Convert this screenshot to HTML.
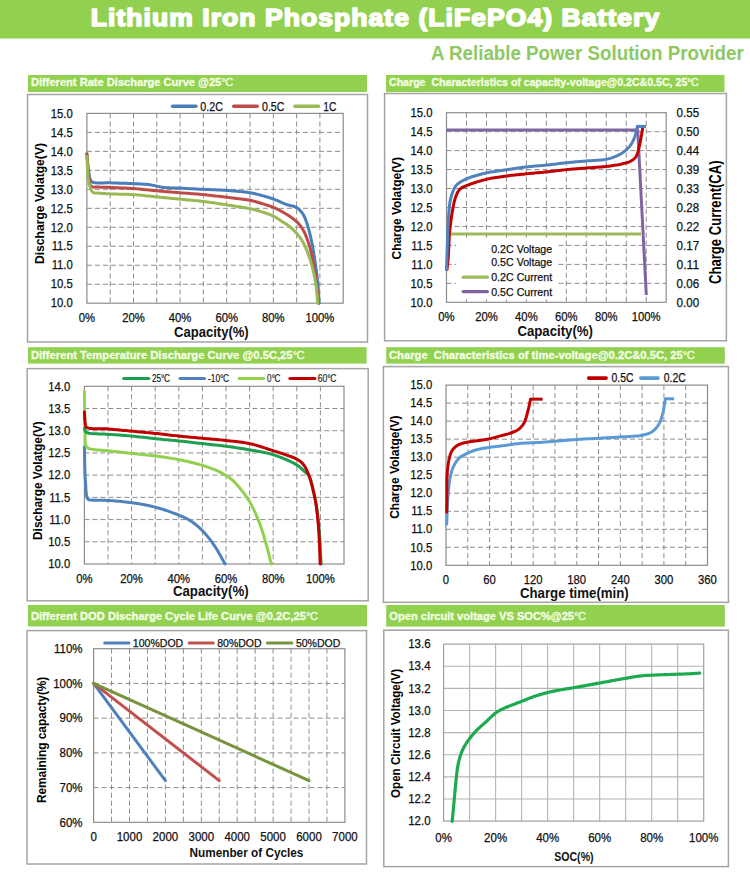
<!DOCTYPE html>
<html><head><meta charset="utf-8"><title>LiFePO4 Battery</title>
<style>
html,body{margin:0;padding:0;background:#fff;width:750px;height:879px;overflow:hidden}
svg{display:block;font-family:"Liberation Sans", sans-serif}
</style></head><body>
<svg width="750" height="879" viewBox="0 0 750 879">
<rect x="0" y="0" width="750" height="879" fill="#ffffff"/>
<rect x="0" y="0" width="750" height="38.5" fill="#92D050"/>
<text transform="translate(90.8,25.5) scale(1.1,1)" x="0" y="0" font-size="24.1" font-weight="bold" fill="#fff" stroke="#fff" stroke-width="1.6" stroke-linejoin="round" textLength="516.7" lengthAdjust="spacing">Lithium Iron Phosphate (LiFePO4) Battery</text>
<text x="431.00" y="59.70" font-size="19.33" font-weight="bold" fill="#8DC863" textLength="312.70" lengthAdjust="spacingAndGlyphs" >A Reliable Power Solution Provider</text>
<rect x="28" y="75" width="339" height="17" fill="#92D050"/>
<text x="30.9" y="85.9" font-size="11.19" font-weight="bold" fill="#F4FFE6" stroke="#F4FFE6" stroke-width="0.3" textLength="202.40" lengthAdjust="spacingAndGlyphs" style="white-space:pre">Different Rate Discharge Curve @25<tspan font-weight="normal">°</tspan><tspan font-weight="normal" dx="-0.5">C</tspan></text>
<rect x="27.5" y="94.5" width="340.0" height="247.5" fill="none" stroke="#A4A4A4" stroke-width="1.5"/>
<path d="M110.20,113.40V303.20M133.50,113.40V303.20M156.80,113.40V303.20M180.10,113.40V303.20M203.40,113.40V303.20M226.70,113.40V303.20M250.00,113.40V303.20M273.30,113.40V303.20M296.60,113.40V303.20M319.90,113.40V303.20" stroke="#8C8C8C" stroke-width="1.0" fill="none" stroke-dasharray="5,3"/><path d="M86.90,284.22H343.20M86.90,265.24H343.20M86.90,246.26H343.20M86.90,227.28H343.20M86.90,208.30H343.20M86.90,189.32H343.20M86.90,170.34H343.20M86.90,151.36H343.20M86.90,132.38H343.20" stroke="#8C8C8C" stroke-width="1.0" fill="none" stroke-dasharray="5,3"/>
<rect x="86.90" y="113.40" width="256.30" height="189.80" fill="none" stroke="#8C8C8C" stroke-width="1.2"/>
<text x="50.81" y="307.43" font-size="12.3" fill="#111" stroke="#111" stroke-width="0.25" textLength="21.99" lengthAdjust="spacingAndGlyphs">10.0</text>
<text x="50.81" y="288.45" font-size="12.3" fill="#111" stroke="#111" stroke-width="0.25" textLength="21.99" lengthAdjust="spacingAndGlyphs">10.5</text>
<text x="51.65" y="269.47" font-size="12.3" fill="#111" stroke="#111" stroke-width="0.25" textLength="21.15" lengthAdjust="spacingAndGlyphs">11.0</text>
<text x="51.65" y="250.49" font-size="12.3" fill="#111" stroke="#111" stroke-width="0.25" textLength="21.15" lengthAdjust="spacingAndGlyphs">11.5</text>
<text x="50.81" y="231.51" font-size="12.3" fill="#111" stroke="#111" stroke-width="0.25" textLength="21.99" lengthAdjust="spacingAndGlyphs">12.0</text>
<text x="50.81" y="212.53" font-size="12.3" fill="#111" stroke="#111" stroke-width="0.25" textLength="21.99" lengthAdjust="spacingAndGlyphs">12.5</text>
<text x="50.81" y="193.55" font-size="12.3" fill="#111" stroke="#111" stroke-width="0.25" textLength="21.99" lengthAdjust="spacingAndGlyphs">13.0</text>
<text x="50.81" y="174.57" font-size="12.3" fill="#111" stroke="#111" stroke-width="0.25" textLength="21.99" lengthAdjust="spacingAndGlyphs">13.5</text>
<text x="50.81" y="155.59" font-size="12.3" fill="#111" stroke="#111" stroke-width="0.25" textLength="21.99" lengthAdjust="spacingAndGlyphs">14.0</text>
<text x="50.81" y="136.61" font-size="12.3" fill="#111" stroke="#111" stroke-width="0.25" textLength="21.99" lengthAdjust="spacingAndGlyphs">14.5</text>
<text x="50.81" y="117.63" font-size="12.3" fill="#111" stroke="#111" stroke-width="0.25" textLength="21.99" lengthAdjust="spacingAndGlyphs">15.0</text>
<text x="78.73" y="321.73" font-size="12.3" fill="#111" stroke="#111" stroke-width="0.25" textLength="16.33" lengthAdjust="spacingAndGlyphs">0%</text>
<text x="122.19" y="321.73" font-size="12.3" fill="#111" stroke="#111" stroke-width="0.25" textLength="22.62" lengthAdjust="spacingAndGlyphs">20%</text>
<text x="168.79" y="321.73" font-size="12.3" fill="#111" stroke="#111" stroke-width="0.25" textLength="22.62" lengthAdjust="spacingAndGlyphs">40%</text>
<text x="215.39" y="321.73" font-size="12.3" fill="#111" stroke="#111" stroke-width="0.25" textLength="22.62" lengthAdjust="spacingAndGlyphs">60%</text>
<text x="261.99" y="321.73" font-size="12.3" fill="#111" stroke="#111" stroke-width="0.25" textLength="22.62" lengthAdjust="spacingAndGlyphs">80%</text>
<text x="305.45" y="321.73" font-size="12.3" fill="#111" stroke="#111" stroke-width="0.25" textLength="28.90" lengthAdjust="spacingAndGlyphs">100%</text>
<text x="174.00" y="336.70" font-size="14.54" font-weight="bold" fill="#111" textLength="74.70" lengthAdjust="spacingAndGlyphs" >Capacity(%)</text>
<text transform="translate(44.20,203.50) rotate(-90)" x="0" y="0" font-size="12.97" font-weight="bold" text-anchor="middle" textLength="121.00" lengthAdjust="spacingAndGlyphs" fill="#000">Discharge Volatge(V)</text>
<path d="M172.55,106.3H195.95" stroke="#4A7EBB" stroke-width="3.5" stroke-linecap="round"/>
<text x="200.30" y="110.53" font-size="12.3" fill="#111" stroke="#111" stroke-width="0.25" textLength="22.60" lengthAdjust="spacingAndGlyphs">0.2C</text>
<path d="M233.75,106.3H257.15" stroke="#BE4B48" stroke-width="3.5" stroke-linecap="round"/>
<text x="262.00" y="110.53" font-size="12.3" fill="#111" stroke="#111" stroke-width="0.25" textLength="22.40" lengthAdjust="spacingAndGlyphs">0.5C</text>
<path d="M294.95,106.3H318.55" stroke="#98B954" stroke-width="3.5" stroke-linecap="round"/>
<text x="323.20" y="110.53" font-size="12.3" fill="#111" stroke="#111" stroke-width="0.25" textLength="13.20" lengthAdjust="spacingAndGlyphs">1C</text>
<path d="M86.90,154.40 L87.05,155.90 L87.19,157.45 L87.33,159.01 L87.46,160.58 L87.59,162.16 L87.73,163.72 L87.87,165.26 L88.02,166.77 L88.18,168.23 L88.36,169.64 L88.55,170.98 L88.76,172.24 L88.92,173.10 L89.07,173.97 L89.22,174.83 L89.37,175.68 L89.52,176.50 L89.69,177.29 L89.87,178.05 L90.06,178.75 L90.28,179.41 L90.52,180.00 L90.79,180.52 L91.09,180.97 L91.28,181.19 L91.47,181.39 L91.66,181.56 L91.85,181.71 L92.05,181.84 L92.26,181.95 L92.48,182.05 L92.72,182.14 L92.98,182.23 L93.26,182.31 L93.56,182.40 L93.89,182.49 L94.76,182.67 L95.77,182.79 L96.93,182.88 L98.19,182.92 L99.56,182.93 L101.00,182.93 L102.50,182.91 L104.04,182.88 L105.59,182.85 L107.15,182.84 L108.70,182.84 L110.20,182.87 L112.01,182.92 L113.89,182.97 L115.83,183.02 L117.81,183.07 L119.83,183.13 L121.85,183.18 L123.88,183.25 L125.89,183.31 L127.87,183.38 L129.81,183.46 L131.69,183.54 L133.50,183.63 L134.97,183.70 L136.40,183.77 L137.81,183.84 L139.20,183.91 L140.57,183.98 L141.92,184.06 L143.26,184.14 L144.58,184.24 L145.90,184.34 L147.20,184.47 L148.51,184.61 L149.81,184.76 L151.01,184.94 L152.20,185.14 L153.36,185.36 L154.51,185.61 L155.66,185.86 L156.80,186.11 L157.94,186.37 L159.09,186.62 L160.24,186.85 L161.40,187.07 L162.59,187.26 L163.79,187.42 L165.09,187.56 L166.39,187.67 L167.70,187.76 L169.02,187.83 L170.34,187.88 L171.68,187.93 L173.03,187.96 L174.40,188.00 L175.79,188.03 L177.20,188.07 L178.63,188.12 L180.10,188.18 L181.90,188.27 L183.74,188.36 L185.63,188.45 L187.56,188.54 L189.51,188.64 L191.49,188.73 L193.48,188.83 L195.48,188.93 L197.48,189.03 L199.47,189.13 L201.45,189.22 L203.40,189.32 L205.34,189.41 L207.28,189.50 L209.23,189.58 L211.17,189.66 L213.11,189.74 L215.05,189.82 L216.99,189.90 L218.94,190.00 L220.88,190.09 L222.82,190.20 L224.76,190.32 L226.70,190.46 L228.67,190.60 L230.70,190.76 L232.76,190.92 L234.83,191.08 L236.91,191.26 L238.97,191.44 L240.99,191.63 L242.96,191.83 L244.87,192.04 L246.69,192.26 L248.40,192.49 L250.00,192.74 L250.98,192.90 L251.90,193.07 L252.77,193.24 L253.60,193.41 L254.41,193.58 L255.19,193.77 L255.96,193.95 L256.73,194.15 L257.51,194.35 L258.31,194.56 L259.15,194.78 L260.02,195.01 L261.09,195.30 L262.20,195.60 L263.33,195.92 L264.48,196.24 L265.64,196.58 L266.81,196.92 L267.98,197.28 L269.16,197.65 L270.33,198.02 L271.49,198.40 L272.64,198.79 L273.77,199.19 L274.86,199.60 L275.96,200.03 L277.05,200.48 L278.14,200.94 L279.22,201.42 L280.30,201.89 L281.37,202.37 L282.44,202.83 L283.49,203.28 L284.53,203.72 L285.56,204.13 L286.58,204.50 L287.46,204.80 L288.35,205.05 L289.24,205.27 L290.12,205.47 L291.00,205.67 L291.87,205.86 L292.72,206.06 L293.55,206.28 L294.36,206.53 L295.14,206.82 L295.89,207.15 L296.60,207.54 L297.23,207.95 L297.84,208.38 L298.43,208.84 L298.99,209.33 L299.54,209.84 L300.07,210.38 L300.57,210.93 L301.07,211.51 L301.54,212.10 L302.00,212.72 L302.45,213.35 L302.89,213.99 L303.36,214.75 L303.80,215.53 L304.22,216.33 L304.61,217.17 L304.98,218.02 L305.33,218.90 L305.67,219.81 L306.01,220.73 L306.33,221.67 L306.66,222.64 L306.99,223.62 L307.32,224.62 L307.73,225.91 L308.14,227.24 L308.54,228.61 L308.92,230.01 L309.30,231.45 L309.67,232.92 L310.04,234.41 L310.39,235.92 L310.74,237.45 L311.08,238.98 L311.42,240.53 L311.75,242.08 L312.11,243.85 L312.46,245.67 L312.80,247.52 L313.13,249.40 L313.45,251.30 L313.77,253.21 L314.07,255.13 L314.37,257.04 L314.66,258.94 L314.94,260.82 L315.21,262.67 L315.47,264.48 L315.71,266.11 L315.93,267.73 L316.15,269.32 L316.36,270.90 L316.57,272.47 L316.76,274.04 L316.95,275.60 L317.14,277.16 L317.31,278.72 L317.48,280.29 L317.65,281.87 L317.80,283.46 L317.95,285.09 L318.09,286.73 L318.22,288.37 L318.34,290.01 L318.46,291.65 L318.56,293.30 L318.67,294.95 L318.77,296.60 L318.87,298.26 L318.98,299.91 L319.09,301.55 L319.20,303.20" stroke="#4A7EBB" stroke-width="3.0" fill="none" stroke-linejoin="round" stroke-linecap="round"/>
<path d="M86.90,153.64 L87.05,155.53 L87.18,157.47 L87.31,159.44 L87.44,161.43 L87.56,163.42 L87.69,165.39 L87.83,167.33 L87.98,169.22 L88.14,171.06 L88.32,172.81 L88.53,174.48 L88.76,176.03 L88.92,177.07 L89.05,178.10 L89.17,179.13 L89.29,180.14 L89.42,181.12 L89.56,182.06 L89.73,182.95 L89.94,183.78 L90.19,184.54 L90.50,185.21 L90.87,185.80 L91.33,186.28 L91.76,186.59 L92.24,186.82 L92.77,186.98 L93.33,187.07 L93.92,187.12 L94.54,187.13 L95.18,187.11 L95.84,187.08 L96.51,187.05 L97.19,187.02 L97.87,187.02 L98.55,187.04 L99.41,187.10 L100.28,187.14 L101.17,187.17 L102.08,187.20 L103.00,187.23 L103.95,187.25 L104.92,187.27 L105.92,187.29 L106.94,187.32 L107.99,187.35 L109.08,187.38 L110.20,187.42 L111.86,187.49 L113.62,187.56 L115.46,187.63 L117.38,187.71 L119.34,187.79 L121.35,187.88 L123.39,187.97 L125.44,188.07 L127.49,188.18 L129.53,188.30 L131.53,188.42 L133.50,188.56 L135.44,188.71 L137.39,188.88 L139.33,189.06 L141.27,189.25 L143.21,189.45 L145.15,189.65 L147.09,189.86 L149.03,190.07 L150.97,190.27 L152.92,190.47 L154.86,190.66 L156.80,190.84 L158.74,191.01 L160.68,191.18 L162.62,191.34 L164.57,191.50 L166.51,191.66 L168.45,191.81 L170.39,191.96 L172.33,192.12 L174.27,192.27 L176.22,192.42 L178.16,192.58 L180.10,192.74 L182.04,192.89 L183.98,193.04 L185.93,193.19 L187.87,193.34 L189.81,193.49 L191.75,193.64 L193.69,193.79 L195.64,193.95 L197.58,194.11 L199.52,194.27 L201.46,194.45 L203.40,194.63 L205.34,194.83 L207.29,195.03 L209.23,195.24 L211.17,195.45 L213.11,195.67 L215.05,195.89 L217.00,196.12 L218.94,196.35 L220.88,196.58 L222.82,196.82 L224.76,197.05 L226.70,197.29 L228.67,197.53 L230.70,197.76 L232.76,198.00 L234.83,198.23 L236.91,198.47 L238.97,198.71 L240.99,198.96 L242.97,199.22 L244.87,199.48 L246.69,199.75 L248.40,200.03 L250.00,200.33 L250.98,200.53 L251.90,200.73 L252.78,200.93 L253.61,201.14 L254.41,201.34 L255.19,201.56 L255.96,201.77 L256.73,202.00 L257.51,202.23 L258.31,202.47 L259.15,202.72 L260.02,202.99 L261.10,203.31 L262.23,203.65 L263.40,204.00 L264.58,204.36 L265.79,204.74 L266.99,205.12 L268.19,205.52 L269.38,205.91 L270.54,206.32 L271.66,206.72 L272.74,207.13 L273.77,207.54 L274.55,207.87 L275.31,208.20 L276.05,208.54 L276.76,208.88 L277.46,209.22 L278.15,209.57 L278.83,209.91 L279.50,210.27 L280.16,210.62 L280.82,210.98 L281.49,211.35 L282.15,211.72 L282.80,212.08 L283.44,212.44 L284.07,212.80 L284.70,213.17 L285.33,213.54 L285.95,213.92 L286.57,214.29 L287.18,214.68 L287.79,215.07 L288.40,215.46 L289.01,215.86 L289.61,216.27 L290.21,216.68 L290.82,217.09 L291.42,217.50 L292.02,217.91 L292.61,218.33 L293.20,218.76 L293.79,219.19 L294.37,219.64 L294.94,220.10 L295.50,220.57 L296.06,221.07 L296.60,221.59 L297.17,222.16 L297.74,222.74 L298.29,223.34 L298.84,223.95 L299.38,224.58 L299.91,225.23 L300.43,225.89 L300.94,226.58 L301.44,227.29 L301.94,228.02 L302.42,228.78 L302.89,229.56 L303.45,230.55 L304.00,231.59 L304.53,232.67 L305.05,233.79 L305.55,234.94 L306.03,236.12 L306.51,237.32 L306.97,238.55 L307.42,239.79 L307.86,241.05 L308.29,242.32 L308.72,243.60 L309.19,245.09 L309.64,246.63 L310.07,248.20 L310.50,249.80 L310.90,251.42 L311.29,253.06 L311.67,254.72 L312.04,256.38 L312.39,258.04 L312.73,259.70 L313.06,261.34 L313.38,262.96 L313.67,264.54 L313.95,266.11 L314.21,267.68 L314.46,269.25 L314.69,270.82 L314.92,272.38 L315.14,273.96 L315.35,275.53 L315.55,277.12 L315.76,278.71 L315.96,280.32 L316.17,281.94 L316.39,283.67 L316.60,285.41 L316.80,287.17 L317.00,288.94 L317.19,290.71 L317.38,292.49 L317.56,294.28 L317.75,296.07 L317.93,297.86 L318.12,299.64 L318.31,301.42 L318.50,303.20" stroke="#BE4B48" stroke-width="3.0" fill="none" stroke-linejoin="round" stroke-linecap="round"/>
<path d="M86.90,156.29 L87.04,158.45 L87.15,160.67 L87.24,162.92 L87.33,165.20 L87.41,167.47 L87.50,169.73 L87.61,171.94 L87.75,174.10 L87.93,176.17 L88.15,178.15 L88.42,180.01 L88.76,181.73 L89.02,182.83 L89.28,183.93 L89.54,185.01 L89.82,186.07 L90.12,187.09 L90.44,188.06 L90.78,188.98 L91.15,189.83 L91.54,190.61 L91.98,191.29 L92.45,191.88 L92.96,192.36 L93.34,192.61 L93.74,192.81 L94.15,192.94 L94.58,193.03 L95.03,193.08 L95.49,193.09 L95.96,193.09 L96.45,193.08 L96.96,193.07 L97.47,193.06 L98.01,193.08 L98.55,193.12 L99.36,193.19 L100.20,193.27 L101.07,193.34 L101.97,193.40 L102.90,193.47 L103.86,193.53 L104.85,193.59 L105.86,193.65 L106.91,193.71 L107.98,193.76 L109.08,193.82 L110.20,193.88 L111.86,193.95 L113.62,194.01 L115.46,194.06 L117.38,194.10 L119.34,194.14 L121.35,194.18 L123.39,194.23 L125.44,194.28 L127.49,194.35 L129.53,194.42 L131.53,194.52 L133.50,194.63 L135.44,194.77 L137.39,194.93 L139.33,195.10 L141.27,195.28 L143.21,195.48 L145.15,195.68 L147.09,195.89 L149.04,196.10 L150.98,196.31 L152.92,196.51 L154.86,196.72 L156.80,196.91 L158.74,197.10 L160.68,197.29 L162.62,197.48 L164.57,197.67 L166.51,197.86 L168.45,198.05 L170.39,198.24 L172.33,198.43 L174.28,198.62 L176.22,198.81 L178.16,199.00 L180.10,199.19 L182.04,199.38 L183.98,199.56 L185.93,199.73 L187.87,199.91 L189.81,200.08 L191.75,200.26 L193.70,200.44 L195.64,200.62 L197.58,200.82 L199.52,201.02 L201.46,201.24 L203.40,201.47 L205.34,201.71 L207.29,201.97 L209.23,202.23 L211.17,202.51 L213.11,202.79 L215.06,203.08 L217.00,203.38 L218.94,203.68 L220.88,203.98 L222.82,204.28 L224.76,204.58 L226.70,204.88 L228.67,205.19 L230.70,205.49 L232.76,205.80 L234.83,206.11 L236.91,206.43 L238.97,206.74 L240.99,207.06 L242.96,207.38 L244.87,207.70 L246.69,208.03 L248.40,208.35 L250.00,208.68 L250.98,208.89 L251.90,209.10 L252.78,209.30 L253.61,209.51 L254.41,209.71 L255.19,209.92 L255.96,210.13 L256.73,210.35 L257.52,210.57 L258.32,210.81 L259.15,211.07 L260.02,211.34 L261.11,211.68 L262.24,212.03 L263.41,212.40 L264.60,212.78 L265.80,213.17 L267.01,213.58 L268.21,214.00 L269.40,214.43 L270.56,214.88 L271.68,215.33 L272.75,215.80 L273.77,216.27 L274.56,216.68 L275.32,217.09 L276.06,217.52 L276.78,217.96 L277.48,218.41 L278.16,218.87 L278.83,219.32 L279.50,219.78 L280.16,220.24 L280.82,220.69 L281.48,221.14 L282.15,221.59 L282.79,222.00 L283.43,222.40 L284.07,222.79 L284.70,223.18 L285.33,223.57 L285.96,223.96 L286.58,224.36 L287.20,224.76 L287.81,225.18 L288.42,225.61 L289.02,226.06 L289.61,226.52 L290.22,227.03 L290.83,227.54 L291.44,228.07 L292.04,228.62 L292.63,229.17 L293.22,229.74 L293.80,230.32 L294.37,230.91 L294.94,231.50 L295.50,232.11 L296.05,232.73 L296.60,233.35 L297.17,234.02 L297.72,234.69 L298.28,235.37 L298.82,236.05 L299.36,236.75 L299.89,237.46 L300.41,238.19 L300.92,238.93 L301.43,239.69 L301.92,240.47 L302.41,241.26 L302.89,242.08 L303.44,243.07 L303.97,244.08 L304.49,245.13 L305.00,246.20 L305.50,247.29 L305.99,248.41 L306.47,249.54 L306.94,250.69 L307.40,251.85 L307.85,253.02 L308.29,254.19 L308.72,255.37 L309.17,256.66 L309.61,257.98 L310.04,259.32 L310.46,260.68 L310.87,262.06 L311.26,263.44 L311.64,264.83 L312.01,266.22 L312.37,267.61 L312.72,268.99 L313.05,270.35 L313.38,271.69 L313.67,272.94 L313.95,274.18 L314.21,275.41 L314.47,276.63 L314.71,277.85 L314.95,279.07 L315.17,280.29 L315.39,281.51 L315.59,282.74 L315.79,283.98 L315.99,285.23 L316.17,286.50 L316.36,287.85 L316.52,289.22 L316.68,290.60 L316.82,291.98 L316.95,293.38 L317.07,294.78 L317.19,296.18 L317.31,297.59 L317.43,299.00 L317.55,300.40 L317.67,301.80 L317.80,303.20" stroke="#98B954" stroke-width="3.0" fill="none" stroke-linejoin="round" stroke-linecap="round"/>
<rect x="386" y="75" width="338.5" height="17" fill="#92D050"/>
<text x="389" y="85.9" font-size="10.90" font-weight="bold" fill="#F4FFE6" stroke="#F4FFE6" stroke-width="0.3" textLength="309.70" lengthAdjust="spacingAndGlyphs" style="white-space:pre">Charge  Characteristics of capacity-voltage@0.2C&amp;0.5C, 25<tspan font-weight="normal">°</tspan><tspan font-weight="normal" dx="-0.5">C</tspan></text>
<rect x="384.6" y="93.5" width="341.79999999999995" height="247.3" fill="none" stroke="#A4A4A4" stroke-width="1.5"/>
<path d="M466.47,112.70V302.30M486.45,112.70V302.30M506.42,112.70V302.30M526.39,112.70V302.30M546.36,112.70V302.30M566.34,112.70V302.30M586.31,112.70V302.30M606.28,112.70V302.30M626.25,112.70V302.30M646.23,112.70V302.30" stroke="#8C8C8C" stroke-width="1.0" fill="none" stroke-dasharray="5,3"/><path d="M446.50,283.34H666.20M446.50,264.38H666.20M446.50,245.42H666.20M446.50,226.46H666.20M446.50,207.50H666.20M446.50,188.54H666.20M446.50,169.58H666.20M446.50,150.62H666.20M446.50,131.66H666.20" stroke="#8C8C8C" stroke-width="1.0" fill="none" stroke-dasharray="5,3"/>
<rect x="446.50" y="112.70" width="219.70" height="189.60" fill="none" stroke="#8C8C8C" stroke-width="1.2"/>
<text x="410.51" y="306.53" font-size="12.3" fill="#111" stroke="#111" stroke-width="0.25" textLength="21.99" lengthAdjust="spacingAndGlyphs">10.0</text>
<text x="410.51" y="287.57" font-size="12.3" fill="#111" stroke="#111" stroke-width="0.25" textLength="21.99" lengthAdjust="spacingAndGlyphs">10.5</text>
<text x="411.35" y="268.61" font-size="12.3" fill="#111" stroke="#111" stroke-width="0.25" textLength="21.15" lengthAdjust="spacingAndGlyphs">11.0</text>
<text x="411.35" y="249.65" font-size="12.3" fill="#111" stroke="#111" stroke-width="0.25" textLength="21.15" lengthAdjust="spacingAndGlyphs">11.5</text>
<text x="410.51" y="230.69" font-size="12.3" fill="#111" stroke="#111" stroke-width="0.25" textLength="21.99" lengthAdjust="spacingAndGlyphs">12.0</text>
<text x="410.51" y="211.73" font-size="12.3" fill="#111" stroke="#111" stroke-width="0.25" textLength="21.99" lengthAdjust="spacingAndGlyphs">12.5</text>
<text x="410.51" y="192.77" font-size="12.3" fill="#111" stroke="#111" stroke-width="0.25" textLength="21.99" lengthAdjust="spacingAndGlyphs">13.0</text>
<text x="410.51" y="173.81" font-size="12.3" fill="#111" stroke="#111" stroke-width="0.25" textLength="21.99" lengthAdjust="spacingAndGlyphs">13.5</text>
<text x="410.51" y="154.85" font-size="12.3" fill="#111" stroke="#111" stroke-width="0.25" textLength="21.99" lengthAdjust="spacingAndGlyphs">14.0</text>
<text x="410.51" y="135.89" font-size="12.3" fill="#111" stroke="#111" stroke-width="0.25" textLength="21.99" lengthAdjust="spacingAndGlyphs">14.5</text>
<text x="410.51" y="116.93" font-size="12.3" fill="#111" stroke="#111" stroke-width="0.25" textLength="21.99" lengthAdjust="spacingAndGlyphs">15.0</text>
<text x="676.60" y="306.53" font-size="12.3" fill="#111" stroke="#111" stroke-width="0.25" textLength="22.50" lengthAdjust="spacingAndGlyphs">0.00</text>
<text x="676.60" y="287.57" font-size="12.3" fill="#111" stroke="#111" stroke-width="0.25" textLength="22.50" lengthAdjust="spacingAndGlyphs">0.06</text>
<text x="676.60" y="268.61" font-size="12.3" fill="#111" stroke="#111" stroke-width="0.25" textLength="22.50" lengthAdjust="spacingAndGlyphs">0.11</text>
<text x="676.60" y="249.65" font-size="12.3" fill="#111" stroke="#111" stroke-width="0.25" textLength="22.50" lengthAdjust="spacingAndGlyphs">0.17</text>
<text x="676.60" y="230.69" font-size="12.3" fill="#111" stroke="#111" stroke-width="0.25" textLength="22.50" lengthAdjust="spacingAndGlyphs">0.22</text>
<text x="676.60" y="211.73" font-size="12.3" fill="#111" stroke="#111" stroke-width="0.25" textLength="22.50" lengthAdjust="spacingAndGlyphs">0.28</text>
<text x="676.60" y="192.77" font-size="12.3" fill="#111" stroke="#111" stroke-width="0.25" textLength="22.50" lengthAdjust="spacingAndGlyphs">0.33</text>
<text x="676.60" y="173.81" font-size="12.3" fill="#111" stroke="#111" stroke-width="0.25" textLength="22.50" lengthAdjust="spacingAndGlyphs">0.39</text>
<text x="676.60" y="154.85" font-size="12.3" fill="#111" stroke="#111" stroke-width="0.25" textLength="22.50" lengthAdjust="spacingAndGlyphs">0.44</text>
<text x="676.60" y="135.89" font-size="12.3" fill="#111" stroke="#111" stroke-width="0.25" textLength="22.50" lengthAdjust="spacingAndGlyphs">0.50</text>
<text x="676.60" y="116.93" font-size="12.3" fill="#111" stroke="#111" stroke-width="0.25" textLength="22.50" lengthAdjust="spacingAndGlyphs">0.55</text>
<text x="438.33" y="320.93" font-size="12.3" fill="#111" stroke="#111" stroke-width="0.25" textLength="16.33" lengthAdjust="spacingAndGlyphs">0%</text>
<text x="475.14" y="320.93" font-size="12.3" fill="#111" stroke="#111" stroke-width="0.25" textLength="22.62" lengthAdjust="spacingAndGlyphs">20%</text>
<text x="515.08" y="320.93" font-size="12.3" fill="#111" stroke="#111" stroke-width="0.25" textLength="22.62" lengthAdjust="spacingAndGlyphs">40%</text>
<text x="555.03" y="320.93" font-size="12.3" fill="#111" stroke="#111" stroke-width="0.25" textLength="22.62" lengthAdjust="spacingAndGlyphs">60%</text>
<text x="594.97" y="320.93" font-size="12.3" fill="#111" stroke="#111" stroke-width="0.25" textLength="22.62" lengthAdjust="spacingAndGlyphs">80%</text>
<text x="631.78" y="320.93" font-size="12.3" fill="#111" stroke="#111" stroke-width="0.25" textLength="28.90" lengthAdjust="spacingAndGlyphs">100%</text>
<text x="517.40" y="336.00" font-size="14.83" font-weight="bold" fill="#111" textLength="75.60" lengthAdjust="spacingAndGlyphs" >Capacity(%)</text>
<text transform="translate(400.50,208.20) rotate(-90)" x="0" y="0" font-size="12.70" font-weight="bold" text-anchor="middle" textLength="102.50" lengthAdjust="spacingAndGlyphs" fill="#000">Charge Volatge(V)</text>
<text transform="translate(721.20,222.20) rotate(-90)" x="0" y="0" font-size="15.68" font-weight="bold" text-anchor="middle" textLength="123.70" lengthAdjust="spacingAndGlyphs" fill="#000">Charge Current(CA)</text>
<rect x="456" y="240" width="102" height="59.5" fill="#fff"/>
<text x="491.20" y="252.56" font-size="11.8" fill="#111" stroke="#111" stroke-width="0.25" textLength="61.00" lengthAdjust="spacingAndGlyphs">0.2C Voltage</text>
<text x="491.20" y="266.26" font-size="11.8" fill="#111" stroke="#111" stroke-width="0.25" textLength="61.00" lengthAdjust="spacingAndGlyphs">0.5C Voltage</text>
<text x="491.20" y="281.26" font-size="11.8" fill="#111" stroke="#111" stroke-width="0.25" textLength="61.00" lengthAdjust="spacingAndGlyphs">0.2C Current</text>
<text x="491.20" y="295.56" font-size="11.8" fill="#111" stroke="#111" stroke-width="0.25" textLength="61.00" lengthAdjust="spacingAndGlyphs">0.5C Current</text>
<path d="M463.20,277.2H487.40" stroke="#9BBB59" stroke-width="3.2" stroke-linecap="round"/>
<path d="M463.20,291.6H487.40" stroke="#8064A2" stroke-width="3.2" stroke-linecap="round"/>
<path d="M446.5,234.04H641" stroke="#9BBB59" stroke-width="3" fill="none"/>
<path d="M446.5,130H637.7L646.3,295" stroke="#8064A2" stroke-width="3" fill="none" stroke-linejoin="round"/>
<path d="M447.00,269.50 L447.10,268.57 L447.20,267.67 L447.31,266.78 L447.41,265.90 L447.51,265.01 L447.62,264.12 L447.72,263.22 L447.82,262.29 L447.92,261.33 L448.01,260.34 L448.11,259.29 L448.20,258.20 L448.32,256.48 L448.43,254.63 L448.52,252.68 L448.61,250.64 L448.69,248.54 L448.78,246.39 L448.87,244.22 L448.96,242.04 L449.07,239.86 L449.19,237.72 L449.33,235.63 L449.50,233.60 L449.68,231.72 L449.86,229.84 L450.06,227.95 L450.27,226.07 L450.49,224.20 L450.72,222.35 L450.96,220.51 L451.21,218.70 L451.47,216.92 L451.74,215.17 L452.01,213.46 L452.30,211.80 L452.54,210.43 L452.78,209.06 L453.03,207.71 L453.27,206.37 L453.53,205.05 L453.79,203.76 L454.06,202.50 L454.35,201.27 L454.66,200.08 L454.98,198.94 L455.33,197.84 L455.70,196.80 L455.99,196.05 L456.27,195.32 L456.57,194.61 L456.86,193.92 L457.17,193.25 L457.49,192.61 L457.83,191.99 L458.18,191.39 L458.55,190.83 L458.94,190.29 L459.36,189.78 L459.80,189.30 L460.22,188.91 L460.64,188.55 L461.07,188.23 L461.52,187.94 L461.98,187.67 L462.46,187.41 L462.96,187.17 L463.49,186.93 L464.04,186.69 L464.63,186.44 L465.24,186.18 L465.90,185.90 L467.16,185.37 L468.56,184.82 L470.08,184.25 L471.72,183.67 L473.43,183.09 L475.21,182.50 L477.03,181.93 L478.88,181.37 L480.73,180.83 L482.57,180.31 L484.36,179.84 L486.10,179.40 L487.78,179.01 L489.48,178.65 L491.17,178.31 L492.87,178.00 L494.57,177.71 L496.28,177.44 L497.99,177.18 L499.69,176.94 L501.40,176.70 L503.10,176.46 L504.80,176.23 L506.50,176.00 L508.17,175.78 L509.84,175.56 L511.51,175.36 L513.18,175.17 L514.84,174.99 L516.51,174.81 L518.17,174.64 L519.84,174.47 L521.50,174.30 L523.17,174.14 L524.83,173.97 L526.50,173.80 L528.17,173.63 L529.84,173.47 L531.51,173.31 L533.18,173.16 L534.85,173.00 L536.52,172.85 L538.19,172.70 L539.85,172.55 L541.52,172.39 L543.18,172.23 L544.84,172.07 L546.50,171.90 L548.13,171.73 L549.76,171.55 L551.39,171.36 L553.01,171.17 L554.63,170.98 L556.25,170.79 L557.87,170.60 L559.49,170.41 L561.11,170.22 L562.74,170.04 L564.37,169.87 L566.00,169.70 L567.66,169.54 L569.32,169.38 L570.98,169.23 L572.65,169.09 L574.31,168.94 L575.98,168.80 L577.65,168.67 L579.32,168.53 L580.99,168.40 L582.66,168.27 L584.33,168.13 L586.00,168.00 L587.67,167.87 L589.36,167.76 L591.05,167.65 L592.75,167.54 L594.45,167.44 L596.14,167.33 L597.83,167.22 L599.50,167.10 L601.16,166.97 L602.80,166.83 L604.41,166.68 L606.00,166.50 L607.42,166.33 L608.84,166.15 L610.25,165.96 L611.67,165.77 L613.06,165.56 L614.44,165.35 L615.80,165.13 L617.12,164.90 L618.41,164.66 L619.66,164.42 L620.86,164.16 L622.00,163.90 L622.82,163.71 L623.61,163.52 L624.39,163.33 L625.14,163.14 L625.88,162.94 L626.59,162.74 L627.29,162.53 L627.97,162.30 L628.63,162.06 L629.27,161.79 L629.89,161.51 L630.50,161.20 L631.02,160.92 L631.53,160.63 L632.02,160.33 L632.50,160.02 L632.97,159.70 L633.42,159.36 L633.86,159.01 L634.28,158.64 L634.69,158.24 L635.08,157.82 L635.45,157.38 L635.80,156.90 L636.20,156.27 L636.57,155.58 L636.90,154.85 L637.20,154.08 L637.48,153.27 L637.75,152.44 L637.99,151.59 L638.22,150.73 L638.44,149.86 L638.66,148.99 L638.88,148.14 L639.10,147.30 L639.32,146.44 L639.53,145.57 L639.73,144.68 L639.91,143.79 L640.09,142.89 L640.26,141.99 L640.42,141.10 L640.58,140.20 L640.73,139.31 L640.89,138.43 L641.04,137.56 L641.20,136.70 L641.34,135.92 L641.49,135.14 L641.62,134.38 L641.76,133.62 L641.89,132.86 L642.02,132.11 L642.15,131.36 L642.28,130.61 L642.41,129.86 L642.54,129.11 L642.67,128.36 L642.80,127.60" stroke="#C00000" stroke-width="3" fill="none" stroke-linejoin="round" stroke-linecap="round"/>
<path d="M446.50,269.80 L446.58,267.46 L446.67,265.11 L446.75,262.76 L446.83,260.40 L446.91,258.04 L447.00,255.68 L447.08,253.33 L447.16,250.99 L447.24,248.67 L447.33,246.36 L447.41,244.07 L447.50,241.80 L447.58,239.69 L447.65,237.56 L447.72,235.44 L447.79,233.33 L447.85,231.23 L447.92,229.14 L448.00,227.07 L448.08,225.04 L448.17,223.04 L448.26,221.08 L448.38,219.16 L448.50,217.30 L448.61,215.80 L448.71,214.32 L448.82,212.86 L448.93,211.41 L449.04,209.99 L449.17,208.60 L449.30,207.23 L449.44,205.90 L449.60,204.59 L449.78,203.32 L449.98,202.09 L450.20,200.90 L450.38,200.00 L450.58,199.13 L450.78,198.27 L450.99,197.44 L451.21,196.62 L451.44,195.83 L451.67,195.05 L451.92,194.29 L452.18,193.54 L452.44,192.82 L452.72,192.10 L453.00,191.40 L453.24,190.82 L453.47,190.26 L453.70,189.70 L453.93,189.16 L454.17,188.64 L454.41,188.12 L454.68,187.61 L454.96,187.11 L455.27,186.63 L455.61,186.14 L455.99,185.67 L456.40,185.20 L456.97,184.62 L457.60,184.06 L458.26,183.51 L458.97,182.97 L459.72,182.45 L460.51,181.94 L461.33,181.45 L462.19,180.96 L463.08,180.48 L463.99,180.01 L464.93,179.55 L465.90,179.10 L467.29,178.49 L468.78,177.90 L470.35,177.33 L472.00,176.77 L473.71,176.23 L475.45,175.71 L477.23,175.21 L479.03,174.73 L480.83,174.27 L482.61,173.83 L484.38,173.40 L486.10,173.00 L487.79,172.63 L489.48,172.29 L491.18,171.97 L492.88,171.68 L494.58,171.41 L496.29,171.15 L497.99,170.90 L499.70,170.66 L501.40,170.43 L503.11,170.19 L504.80,169.95 L506.50,169.70 L508.17,169.45 L509.84,169.20 L511.51,168.94 L513.18,168.70 L514.84,168.45 L516.51,168.21 L518.17,167.97 L519.84,167.74 L521.50,167.52 L523.17,167.30 L524.83,167.10 L526.50,166.90 L528.17,166.72 L529.83,166.55 L531.50,166.39 L533.17,166.25 L534.84,166.11 L536.51,165.97 L538.18,165.84 L539.85,165.70 L541.52,165.56 L543.18,165.42 L544.84,165.27 L546.50,165.10 L548.13,164.92 L549.76,164.74 L551.39,164.55 L553.01,164.35 L554.63,164.15 L556.25,163.95 L557.87,163.75 L559.49,163.55 L561.11,163.35 L562.74,163.16 L564.37,162.98 L566.00,162.80 L567.66,162.63 L569.32,162.47 L570.98,162.31 L572.65,162.16 L574.31,162.01 L575.98,161.86 L577.65,161.72 L579.32,161.57 L580.99,161.43 L582.66,161.29 L584.33,161.14 L586.00,161.00 L587.69,160.87 L589.41,160.75 L591.15,160.64 L592.91,160.55 L594.66,160.45 L596.41,160.35 L598.13,160.23 L599.82,160.10 L601.46,159.95 L603.04,159.77 L604.56,159.56 L606.00,159.30 L607.03,159.09 L608.02,158.86 L608.99,158.62 L609.92,158.36 L610.84,158.09 L611.73,157.82 L612.59,157.52 L613.44,157.22 L614.28,156.91 L615.10,156.58 L615.90,156.25 L616.70,155.90 L617.38,155.59 L618.05,155.28 L618.70,154.96 L619.34,154.63 L619.97,154.29 L620.59,153.95 L621.19,153.59 L621.79,153.22 L622.37,152.84 L622.95,152.44 L623.53,152.03 L624.10,151.60 L624.68,151.14 L625.26,150.67 L625.84,150.18 L626.40,149.68 L626.96,149.17 L627.51,148.64 L628.05,148.10 L628.57,147.55 L629.08,146.98 L629.57,146.40 L630.05,145.80 L630.50,145.20 L630.94,144.56 L631.37,143.91 L631.78,143.24 L632.17,142.56 L632.54,141.86 L632.90,141.15 L633.25,140.43 L633.58,139.70 L633.90,138.96 L634.21,138.21 L634.51,137.46 L634.80,136.70 L635.09,135.88 L635.36,135.05 L635.61,134.20 L635.84,133.34 L636.06,132.47 L636.27,131.59 L636.47,130.70 L636.67,129.82 L636.87,128.93 L637.07,128.05 L637.28,127.17 L637.50,126.30" stroke="#4F81BD" stroke-width="3" fill="none" stroke-linejoin="round" stroke-linecap="round"/>
<path d="M637.7,126.4H646" stroke="#4F81BD" stroke-width="3" fill="none"/>
<rect x="28" y="347.2" width="338.6" height="16.4" fill="#92D050"/>
<text x="30.9" y="358.9" font-size="11.48" font-weight="bold" fill="#F4FFE6" stroke="#F4FFE6" stroke-width="0.3" textLength="273.80" lengthAdjust="spacingAndGlyphs" style="white-space:pre">Different Temperature Discharge Curve @0.5C,25<tspan font-weight="normal">°</tspan><tspan font-weight="normal" dx="-0.5">C</tspan></text>
<rect x="27.2" y="368.6" width="341.0" height="232.19999999999993" fill="none" stroke="#A4A4A4" stroke-width="1.5"/>
<path d="M108.00,386.30V564.00M131.60,386.30V564.00M155.20,386.30V564.00M178.80,386.30V564.00M202.40,386.30V564.00M226.00,386.30V564.00M249.60,386.30V564.00M273.20,386.30V564.00M296.80,386.30V564.00M320.40,386.30V564.00" stroke="#8C8C8C" stroke-width="1.0" fill="none" stroke-dasharray="5,3"/><path d="M84.40,541.79H344.00M84.40,519.58H344.00M84.40,497.36H344.00M84.40,475.15H344.00M84.40,452.94H344.00M84.40,430.73H344.00M84.40,408.51H344.00" stroke="#8C8C8C" stroke-width="1.0" fill="none" stroke-dasharray="5,3"/>
<rect x="84.40" y="386.30" width="259.60" height="177.70" fill="none" stroke="#8C8C8C" stroke-width="1.2"/>
<text x="48.31" y="568.23" font-size="12.3" fill="#111" stroke="#111" stroke-width="0.25" textLength="21.99" lengthAdjust="spacingAndGlyphs">10.0</text>
<text x="48.31" y="546.02" font-size="12.3" fill="#111" stroke="#111" stroke-width="0.25" textLength="21.99" lengthAdjust="spacingAndGlyphs">10.5</text>
<text x="49.15" y="523.81" font-size="12.3" fill="#111" stroke="#111" stroke-width="0.25" textLength="21.15" lengthAdjust="spacingAndGlyphs">11.0</text>
<text x="49.15" y="501.59" font-size="12.3" fill="#111" stroke="#111" stroke-width="0.25" textLength="21.15" lengthAdjust="spacingAndGlyphs">11.5</text>
<text x="48.31" y="479.38" font-size="12.3" fill="#111" stroke="#111" stroke-width="0.25" textLength="21.99" lengthAdjust="spacingAndGlyphs">12.0</text>
<text x="48.31" y="457.17" font-size="12.3" fill="#111" stroke="#111" stroke-width="0.25" textLength="21.99" lengthAdjust="spacingAndGlyphs">12.5</text>
<text x="48.31" y="434.96" font-size="12.3" fill="#111" stroke="#111" stroke-width="0.25" textLength="21.99" lengthAdjust="spacingAndGlyphs">13.0</text>
<text x="48.31" y="412.74" font-size="12.3" fill="#111" stroke="#111" stroke-width="0.25" textLength="21.99" lengthAdjust="spacingAndGlyphs">13.5</text>
<text x="48.31" y="390.53" font-size="12.3" fill="#111" stroke="#111" stroke-width="0.25" textLength="21.99" lengthAdjust="spacingAndGlyphs">14.0</text>
<text x="76.23" y="583.13" font-size="12.3" fill="#111" stroke="#111" stroke-width="0.25" textLength="16.33" lengthAdjust="spacingAndGlyphs">0%</text>
<text x="120.29" y="583.13" font-size="12.3" fill="#111" stroke="#111" stroke-width="0.25" textLength="22.62" lengthAdjust="spacingAndGlyphs">20%</text>
<text x="167.49" y="583.13" font-size="12.3" fill="#111" stroke="#111" stroke-width="0.25" textLength="22.62" lengthAdjust="spacingAndGlyphs">40%</text>
<text x="214.69" y="583.13" font-size="12.3" fill="#111" stroke="#111" stroke-width="0.25" textLength="22.62" lengthAdjust="spacingAndGlyphs">60%</text>
<text x="261.89" y="583.13" font-size="12.3" fill="#111" stroke="#111" stroke-width="0.25" textLength="22.62" lengthAdjust="spacingAndGlyphs">80%</text>
<text x="305.95" y="583.13" font-size="12.3" fill="#111" stroke="#111" stroke-width="0.25" textLength="28.90" lengthAdjust="spacingAndGlyphs">100%</text>
<text x="172.90" y="595.60" font-size="14.83" font-weight="bold" fill="#111" textLength="75.80" lengthAdjust="spacingAndGlyphs" >Capacity(%)</text>
<text transform="translate(41.96,480.60) rotate(-90)" x="0" y="0" font-size="13.68" font-weight="bold" text-anchor="middle" textLength="118.75" lengthAdjust="spacingAndGlyphs" fill="#000">Discharge Volatge(V)</text>
<path d="M123.60,378.5H148.90" stroke="#1E9E50" stroke-width="3.0" stroke-linecap="round"/>
<text x="151.9" y="382.04" font-size="10.3" fill="#111" stroke="#111" stroke-width="0.15" textLength="18.10" lengthAdjust="spacingAndGlyphs">25<tspan font-weight="normal">°</tspan><tspan font-weight="normal" dx="-0.5">C</tspan></text>
<path d="M180.00,378.5H204.50" stroke="#4F81BD" stroke-width="3.0" stroke-linecap="round"/>
<text x="207.9" y="382.04" font-size="10.3" fill="#111" stroke="#111" stroke-width="0.15" textLength="21.30" lengthAdjust="spacingAndGlyphs">-10<tspan font-weight="normal">°</tspan><tspan font-weight="normal" dx="-0.5">C</tspan></text>
<path d="M239.20,378.5H263.70" stroke="#92D050" stroke-width="3.0" stroke-linecap="round"/>
<text x="267.1" y="382.04" font-size="10.3" fill="#111" stroke="#111" stroke-width="0.15" textLength="13.30" lengthAdjust="spacingAndGlyphs">0<tspan font-weight="normal">°</tspan><tspan font-weight="normal" dx="-0.5">C</tspan></text>
<path d="M289.90,378.5H314.90" stroke="#C00000" stroke-width="3.0" stroke-linecap="round"/>
<text x="317.7" y="382.04" font-size="10.3" fill="#111" stroke="#111" stroke-width="0.15" textLength="18.70" lengthAdjust="spacingAndGlyphs">60<tspan font-weight="normal">°</tspan><tspan font-weight="normal" dx="-0.5">C</tspan></text>
<path d="M84.40,446.72 L84.47,449.48 L84.53,452.30 L84.57,455.14 L84.61,457.99 L84.66,460.85 L84.70,463.69 L84.76,466.50 L84.83,469.27 L84.92,471.98 L85.03,474.61 L85.17,477.15 L85.34,479.59 L85.48,481.48 L85.59,483.43 L85.69,485.41 L85.80,487.40 L85.91,489.34 L86.05,491.22 L86.22,492.99 L86.43,494.63 L86.70,496.09 L87.03,497.36 L87.44,498.38 L87.94,499.14 L88.18,499.37 L88.41,499.55 L88.66,499.69 L88.91,499.79 L89.17,499.85 L89.45,499.89 L89.74,499.92 L90.05,499.93 L90.37,499.94 L90.72,499.96 L91.09,499.98 L91.48,500.03 L92.42,500.13 L93.49,500.20 L94.68,500.25 L95.97,500.27 L97.35,500.29 L98.79,500.29 L100.29,500.30 L101.83,500.30 L103.38,500.32 L104.94,500.35 L106.48,500.40 L108.00,500.47 L109.82,500.59 L111.69,500.71 L113.61,500.85 L115.56,501.00 L117.55,501.16 L119.55,501.33 L121.57,501.52 L123.59,501.72 L125.61,501.94 L127.63,502.18 L129.63,502.43 L131.60,502.69 L133.57,502.98 L135.55,503.27 L137.52,503.57 L139.49,503.89 L141.47,504.22 L143.44,504.57 L145.40,504.93 L147.37,505.32 L149.33,505.74 L151.29,506.17 L153.25,506.64 L155.20,507.14 L157.21,507.68 L159.26,508.27 L161.33,508.89 L163.41,509.54 L165.50,510.22 L167.56,510.92 L169.59,511.63 L171.58,512.34 L173.51,513.05 L175.36,513.76 L177.13,514.46 L178.80,515.13 L179.94,515.60 L181.04,516.06 L182.09,516.50 L183.10,516.94 L184.08,517.38 L185.03,517.82 L185.97,518.28 L186.90,518.75 L187.81,519.24 L188.73,519.76 L189.66,520.32 L190.60,520.91 L191.62,521.58 L192.64,522.29 L193.64,523.02 L194.65,523.77 L195.64,524.55 L196.63,525.36 L197.61,526.19 L198.58,527.04 L199.55,527.92 L200.51,528.82 L201.46,529.74 L202.40,530.68 L203.44,531.75 L204.46,532.86 L205.48,534.00 L206.49,535.17 L207.49,536.37 L208.48,537.59 L209.47,538.84 L210.44,540.11 L211.39,541.39 L212.34,542.70 L213.28,544.01 L214.20,545.34 L215.17,546.79 L216.12,548.27 L217.04,549.79 L217.96,551.33 L218.85,552.90 L219.74,554.48 L220.63,556.07 L221.51,557.67 L222.39,559.26 L223.27,560.85 L224.16,562.44 L225.06,564.00" stroke="#4F81BD" stroke-width="3" fill="none" stroke-linejoin="round" stroke-linecap="round"/>
<path d="M84.40,391.63 L84.46,394.95 L84.51,398.36 L84.55,401.83 L84.60,405.34 L84.64,408.85 L84.69,412.32 L84.74,415.73 L84.80,419.05 L84.86,422.24 L84.93,425.27 L85.01,428.11 L85.11,430.73 L85.15,432.27 L85.17,433.80 L85.16,435.31 L85.15,436.77 L85.14,438.18 L85.15,439.54 L85.17,440.82 L85.24,442.03 L85.35,443.14 L85.51,444.15 L85.74,445.05 L86.05,445.83 L86.23,446.18 L86.42,446.49 L86.61,446.77 L86.81,447.02 L87.02,447.24 L87.25,447.45 L87.50,447.64 L87.77,447.81 L88.06,447.98 L88.38,448.15 L88.73,448.32 L89.12,448.50 L90.10,448.85 L91.27,449.14 L92.61,449.39 L94.09,449.59 L95.69,449.76 L97.38,449.90 L99.14,450.03 L100.93,450.14 L102.74,450.26 L104.54,450.39 L106.30,450.54 L108.00,450.72 L109.87,450.93 L111.78,451.15 L113.71,451.37 L115.67,451.59 L117.65,451.81 L119.64,452.04 L121.63,452.26 L123.64,452.49 L125.64,452.71 L127.64,452.94 L129.62,453.16 L131.60,453.38 L133.57,453.60 L135.53,453.82 L137.50,454.03 L139.47,454.24 L141.44,454.45 L143.40,454.66 L145.37,454.87 L147.34,455.09 L149.30,455.32 L151.27,455.55 L153.24,455.79 L155.20,456.05 L157.17,456.31 L159.14,456.56 L161.11,456.82 L163.08,457.09 L165.05,457.36 L167.02,457.63 L168.98,457.92 L170.95,458.22 L172.92,458.54 L174.88,458.87 L176.84,459.23 L178.80,459.60 L180.79,460.00 L182.80,460.42 L184.82,460.85 L186.85,461.30 L188.88,461.77 L190.90,462.25 L192.90,462.74 L194.88,463.25 L196.83,463.77 L198.73,464.29 L200.59,464.83 L202.40,465.38 L203.90,465.85 L205.38,466.32 L206.84,466.80 L208.28,467.29 L209.69,467.79 L211.08,468.29 L212.44,468.81 L213.78,469.33 L215.10,469.88 L216.40,470.43 L217.67,471.01 L218.92,471.60 L220.00,472.13 L221.06,472.66 L222.11,473.20 L223.13,473.75 L224.14,474.31 L225.13,474.88 L226.10,475.47 L227.05,476.08 L227.99,476.70 L228.92,477.34 L229.83,478.01 L230.72,478.70 L231.59,479.42 L232.43,480.15 L233.26,480.90 L234.06,481.68 L234.85,482.47 L235.63,483.28 L236.40,484.11 L237.16,484.95 L237.91,485.81 L238.66,486.69 L239.41,487.57 L240.16,488.48 L240.98,489.48 L241.80,490.50 L242.62,491.53 L243.42,492.59 L244.22,493.66 L245.02,494.75 L245.80,495.86 L246.58,497.00 L247.35,498.16 L248.11,499.35 L248.86,500.56 L249.60,501.81 L250.45,503.30 L251.30,504.84 L252.14,506.43 L252.96,508.05 L253.78,509.71 L254.58,511.40 L255.37,513.11 L256.14,514.83 L256.90,516.57 L257.63,518.31 L258.35,520.06 L259.04,521.80 L259.73,523.59 L260.39,525.41 L261.03,527.25 L261.66,529.11 L262.26,530.98 L262.85,532.86 L263.42,534.74 L263.98,536.62 L264.53,538.49 L265.06,540.34 L265.59,542.19 L266.12,544.01 L266.60,545.71 L267.07,547.39 L267.52,549.07 L267.96,550.74 L268.38,552.40 L268.81,554.06 L269.22,555.72 L269.63,557.37 L270.05,559.02 L270.46,560.68 L270.88,562.34 L271.31,564.00" stroke="#92D050" stroke-width="3" fill="none" stroke-linejoin="round" stroke-linecap="round"/>
<path d="M84.40,428.50 L84.49,428.77 L84.58,429.04 L84.66,429.32 L84.74,429.60 L84.82,429.88 L84.91,430.16 L84.99,430.44 L85.09,430.70 L85.19,430.95 L85.30,431.19 L85.43,431.41 L85.58,431.61 L85.71,431.77 L85.84,431.91 L85.98,432.05 L86.12,432.17 L86.26,432.28 L86.42,432.39 L86.58,432.49 L86.77,432.58 L86.97,432.67 L87.19,432.76 L87.43,432.85 L87.70,432.95 L88.65,433.18 L89.85,433.38 L91.26,433.53 L92.85,433.65 L94.59,433.74 L96.44,433.82 L98.37,433.89 L100.34,433.95 L102.32,434.01 L104.29,434.08 L106.19,434.17 L108.00,434.28 L109.90,434.41 L111.83,434.54 L113.78,434.68 L115.74,434.81 L117.71,434.95 L119.69,435.09 L121.68,435.24 L123.67,435.39 L125.66,435.54 L127.65,435.70 L129.63,435.88 L131.60,436.06 L133.57,436.25 L135.54,436.45 L137.50,436.67 L139.47,436.90 L141.44,437.13 L143.40,437.36 L145.37,437.60 L147.33,437.83 L149.30,438.07 L151.27,438.29 L153.23,438.51 L155.20,438.72 L157.17,438.92 L159.13,439.11 L161.10,439.30 L163.07,439.48 L165.03,439.66 L167.00,439.83 L168.97,440.01 L170.93,440.19 L172.90,440.37 L174.87,440.55 L176.83,440.74 L178.80,440.94 L180.77,441.15 L182.73,441.36 L184.70,441.58 L186.67,441.80 L188.63,442.02 L190.60,442.25 L192.57,442.48 L194.53,442.70 L196.50,442.93 L198.47,443.16 L200.43,443.38 L202.40,443.61 L204.37,443.83 L206.33,444.04 L208.30,444.25 L210.27,444.46 L212.24,444.67 L214.20,444.89 L216.17,445.10 L218.14,445.32 L220.10,445.55 L222.07,445.78 L224.04,446.02 L226.00,446.27 L227.97,446.53 L229.94,446.80 L231.91,447.07 L233.88,447.34 L235.84,447.63 L237.81,447.91 L239.78,448.21 L241.74,448.51 L243.71,448.83 L245.67,449.15 L247.64,449.48 L249.60,449.83 L251.57,450.17 L253.55,450.51 L255.53,450.84 L257.50,451.18 L259.48,451.52 L261.45,451.88 L263.43,452.26 L265.39,452.67 L267.35,453.12 L269.31,453.60 L271.26,454.13 L273.20,454.71 L275.24,455.38 L277.35,456.11 L279.49,456.90 L281.66,457.73 L283.82,458.60 L285.95,459.50 L288.03,460.41 L290.03,461.34 L291.93,462.26 L293.71,463.17 L295.34,464.07 L296.80,464.93 L297.60,465.45 L298.35,465.98 L299.05,466.50 L299.70,467.03 L300.31,467.55 L300.90,468.08 L301.46,468.60 L302.00,469.12 L302.53,469.63 L303.05,470.15 L303.58,470.65 L304.12,471.15 L304.58,471.56 L305.03,471.95 L305.48,472.32 L305.92,472.68 L306.36,473.03 L306.78,473.40 L307.20,473.77 L307.60,474.16 L307.99,474.58 L308.37,475.02 L308.73,475.51 L309.07,476.04 L309.51,476.83 L309.91,477.70 L310.28,478.62 L310.61,479.60 L310.93,480.63 L311.22,481.69 L311.50,482.79 L311.77,483.91 L312.04,485.04 L312.30,486.19 L312.57,487.34 L312.85,488.48 L313.18,489.83 L313.51,491.21 L313.83,492.62 L314.14,494.04 L314.45,495.50 L314.74,496.97 L315.04,498.46 L315.32,499.98 L315.60,501.52 L315.87,503.08 L316.13,504.65 L316.39,506.25 L316.68,508.13 L316.95,510.04 L317.22,511.98 L317.48,513.95 L317.72,515.95 L317.96,517.97 L318.19,520.02 L318.41,522.10 L318.62,524.21 L318.83,526.34 L319.03,528.50 L319.22,530.68 L319.43,533.27 L319.62,535.93 L319.80,538.64 L319.96,541.40 L320.11,544.19 L320.26,547.01 L320.40,549.85 L320.53,552.70 L320.67,555.55 L320.81,558.39 L320.96,561.21 L321.11,564.00" stroke="#1E9E50" stroke-width="3" fill="none" stroke-linejoin="round" stroke-linecap="round"/>
<path d="M84.40,412.07 L84.45,412.89 L84.50,413.73 L84.55,414.58 L84.59,415.44 L84.63,416.29 L84.67,417.14 L84.72,417.98 L84.77,418.81 L84.84,419.61 L84.91,420.39 L85.00,421.13 L85.11,421.84 L85.18,422.35 L85.23,422.86 L85.26,423.36 L85.29,423.85 L85.32,424.33 L85.37,424.80 L85.45,425.25 L85.55,425.68 L85.71,426.09 L85.91,426.47 L86.18,426.84 L86.52,427.17 L87.44,427.73 L88.66,428.14 L90.13,428.43 L91.81,428.61 L93.66,428.72 L95.65,428.77 L97.72,428.77 L99.85,428.76 L101.98,428.75 L104.08,428.77 L106.10,428.83 L108.00,428.95 L109.93,429.12 L111.87,429.30 L113.82,429.48 L115.79,429.66 L117.76,429.85 L119.73,430.04 L121.71,430.23 L123.69,430.42 L125.67,430.61 L127.65,430.79 L129.63,430.98 L131.60,431.17 L133.57,431.35 L135.53,431.53 L137.50,431.71 L139.47,431.89 L141.43,432.07 L143.40,432.25 L145.37,432.43 L147.34,432.62 L149.30,432.80 L151.27,432.99 L153.23,433.19 L155.20,433.39 L157.17,433.60 L159.13,433.81 L161.10,434.04 L163.07,434.26 L165.03,434.49 L167.00,434.72 L168.97,434.95 L170.93,435.18 L172.90,435.41 L174.87,435.63 L176.83,435.85 L178.80,436.06 L180.77,436.26 L182.73,436.45 L184.70,436.64 L186.66,436.83 L188.63,437.01 L190.60,437.19 L192.57,437.37 L194.53,437.55 L196.50,437.73 L198.47,437.91 L200.43,438.09 L202.40,438.28 L204.37,438.46 L206.33,438.64 L208.30,438.81 L210.27,438.99 L212.24,439.16 L214.20,439.33 L216.17,439.51 L218.14,439.69 L220.10,439.88 L222.07,440.08 L224.04,440.28 L226.00,440.50 L227.97,440.71 L229.94,440.92 L231.91,441.12 L233.89,441.33 L235.86,441.54 L237.83,441.76 L239.80,442.00 L241.77,442.25 L243.73,442.54 L245.69,442.86 L247.65,443.21 L249.60,443.61 L251.61,444.07 L253.65,444.58 L255.71,445.15 L257.78,445.75 L259.85,446.38 L261.91,447.03 L263.93,447.68 L265.92,448.34 L267.85,448.98 L269.72,449.59 L271.50,450.18 L273.20,450.72 L274.37,451.08 L275.49,451.43 L276.57,451.77 L277.61,452.10 L278.63,452.42 L279.63,452.74 L280.61,453.06 L281.58,453.37 L282.54,453.70 L283.51,454.03 L284.48,454.36 L285.47,454.71 L286.45,455.06 L287.44,455.40 L288.43,455.74 L289.43,456.08 L290.42,456.42 L291.40,456.77 L292.37,457.13 L293.32,457.50 L294.24,457.88 L295.13,458.29 L295.99,458.71 L296.80,459.16 L297.45,459.54 L298.07,459.92 L298.68,460.31 L299.27,460.71 L299.84,461.11 L300.39,461.53 L300.93,461.96 L301.45,462.42 L301.96,462.90 L302.45,463.40 L302.93,463.93 L303.41,464.49 L303.94,465.18 L304.45,465.92 L304.93,466.70 L305.39,467.51 L305.84,468.35 L306.26,469.21 L306.68,470.10 L307.08,471.01 L307.47,471.92 L307.85,472.85 L308.23,473.78 L308.60,474.71 L309.00,475.73 L309.38,476.78 L309.75,477.84 L310.10,478.92 L310.44,480.01 L310.77,481.11 L311.09,482.23 L311.40,483.37 L311.71,484.52 L312.01,485.68 L312.31,486.85 L312.61,488.03 L312.95,489.38 L313.28,490.74 L313.60,492.11 L313.92,493.50 L314.22,494.91 L314.53,496.33 L314.82,497.77 L315.10,499.24 L315.38,500.73 L315.65,502.24 L315.90,503.79 L316.15,505.36 L316.44,507.28 L316.70,509.25 L316.96,511.26 L317.20,513.30 L317.43,515.38 L317.64,517.49 L317.85,519.63 L318.04,521.80 L318.23,523.99 L318.41,526.20 L318.58,528.43 L318.75,530.68 L318.92,533.30 L319.08,535.97 L319.22,538.69 L319.34,541.44 L319.46,544.24 L319.56,547.05 L319.66,549.88 L319.75,552.72 L319.85,555.56 L319.95,558.39 L320.05,561.21 L320.16,564.00" stroke="#C00000" stroke-width="3" fill="none" stroke-linejoin="round" stroke-linecap="round"/>
<rect x="386.2" y="347.2" width="338.6" height="16.4" fill="#92D050"/>
<text x="389" y="358.9" font-size="11.48" font-weight="bold" fill="#F4FFE6" stroke="#F4FFE6" stroke-width="0.3" textLength="305.80" lengthAdjust="spacingAndGlyphs" style="white-space:pre">Charge  Characteristics of time-voltage@0.2C&amp;0.5C, 25<tspan font-weight="normal">°</tspan><tspan font-weight="normal" dx="-0.5">C</tspan></text>
<rect x="383.4" y="366.6" width="345.0" height="235.69999999999993" fill="none" stroke="#A4A4A4" stroke-width="1.5"/>
<path d="M467.79,385.10V565.30M489.58,385.10V565.30M511.38,385.10V565.30M533.17,385.10V565.30M554.96,385.10V565.30M576.75,385.10V565.30M598.54,385.10V565.30M620.33,385.10V565.30M642.12,385.10V565.30M663.92,385.10V565.30M685.71,385.10V565.30" stroke="#8C8C8C" stroke-width="1.0" fill="none" stroke-dasharray="5,3"/><path d="M446.00,547.28H707.50M446.00,529.26H707.50M446.00,511.24H707.50M446.00,493.22H707.50M446.00,475.20H707.50M446.00,457.18H707.50M446.00,439.16H707.50M446.00,421.14H707.50M446.00,403.12H707.50" stroke="#8C8C8C" stroke-width="1.0" fill="none" stroke-dasharray="5,3"/>
<rect x="446.00" y="385.10" width="261.50" height="180.20" fill="none" stroke="#8C8C8C" stroke-width="1.2"/>
<text x="410.31" y="569.53" font-size="12.3" fill="#111" stroke="#111" stroke-width="0.25" textLength="21.99" lengthAdjust="spacingAndGlyphs">10.0</text>
<text x="410.31" y="551.51" font-size="12.3" fill="#111" stroke="#111" stroke-width="0.25" textLength="21.99" lengthAdjust="spacingAndGlyphs">10.5</text>
<text x="411.15" y="533.49" font-size="12.3" fill="#111" stroke="#111" stroke-width="0.25" textLength="21.15" lengthAdjust="spacingAndGlyphs">11.0</text>
<text x="411.15" y="515.47" font-size="12.3" fill="#111" stroke="#111" stroke-width="0.25" textLength="21.15" lengthAdjust="spacingAndGlyphs">11.5</text>
<text x="410.31" y="497.45" font-size="12.3" fill="#111" stroke="#111" stroke-width="0.25" textLength="21.99" lengthAdjust="spacingAndGlyphs">12.0</text>
<text x="410.31" y="479.43" font-size="12.3" fill="#111" stroke="#111" stroke-width="0.25" textLength="21.99" lengthAdjust="spacingAndGlyphs">12.5</text>
<text x="410.31" y="461.41" font-size="12.3" fill="#111" stroke="#111" stroke-width="0.25" textLength="21.99" lengthAdjust="spacingAndGlyphs">13.0</text>
<text x="410.31" y="443.39" font-size="12.3" fill="#111" stroke="#111" stroke-width="0.25" textLength="21.99" lengthAdjust="spacingAndGlyphs">13.5</text>
<text x="410.31" y="425.37" font-size="12.3" fill="#111" stroke="#111" stroke-width="0.25" textLength="21.99" lengthAdjust="spacingAndGlyphs">14.0</text>
<text x="410.31" y="407.35" font-size="12.3" fill="#111" stroke="#111" stroke-width="0.25" textLength="21.99" lengthAdjust="spacingAndGlyphs">14.5</text>
<text x="410.31" y="389.33" font-size="12.3" fill="#111" stroke="#111" stroke-width="0.25" textLength="21.99" lengthAdjust="spacingAndGlyphs">15.0</text>
<text x="442.86" y="583.73" font-size="12.3" fill="#111" stroke="#111" stroke-width="0.25" textLength="6.28" lengthAdjust="spacingAndGlyphs">0</text>
<text x="483.30" y="583.73" font-size="12.3" fill="#111" stroke="#111" stroke-width="0.25" textLength="12.57" lengthAdjust="spacingAndGlyphs">60</text>
<text x="523.74" y="583.73" font-size="12.3" fill="#111" stroke="#111" stroke-width="0.25" textLength="18.85" lengthAdjust="spacingAndGlyphs">120</text>
<text x="567.32" y="583.73" font-size="12.3" fill="#111" stroke="#111" stroke-width="0.25" textLength="18.85" lengthAdjust="spacingAndGlyphs">180</text>
<text x="610.91" y="583.73" font-size="12.3" fill="#111" stroke="#111" stroke-width="0.25" textLength="18.85" lengthAdjust="spacingAndGlyphs">240</text>
<text x="654.49" y="583.73" font-size="12.3" fill="#111" stroke="#111" stroke-width="0.25" textLength="18.85" lengthAdjust="spacingAndGlyphs">300</text>
<text x="698.07" y="583.73" font-size="12.3" fill="#111" stroke="#111" stroke-width="0.25" textLength="18.85" lengthAdjust="spacingAndGlyphs">360</text>
<text x="520.00" y="597.60" font-size="14.68" font-weight="bold" fill="#111" textLength="108.70" lengthAdjust="spacingAndGlyphs" >Charge time(min)</text>
<text transform="translate(399.31,467.20) rotate(-90)" x="0" y="0" font-size="13.01" font-weight="bold" text-anchor="middle" textLength="103.30" lengthAdjust="spacingAndGlyphs" fill="#000">Charge Volatge(V)</text>
<path d="M588.60,378.1H606.10" stroke="#C00000" stroke-width="3.6" stroke-linecap="round"/>
<text x="611.60" y="382.33" font-size="12.3" fill="#111" stroke="#111" stroke-width="0.25" textLength="21.90" lengthAdjust="spacingAndGlyphs">0.5C</text>
<path d="M640.80,378.1H658.00" stroke="#5B9BD5" stroke-width="3.6" stroke-linecap="round"/>
<text x="663.80" y="382.33" font-size="12.3" fill="#111" stroke="#111" stroke-width="0.25" textLength="22.00" lengthAdjust="spacingAndGlyphs">0.2C</text>
<path d="M446.73,524.21 L446.77,522.83 L446.82,521.43 L446.86,520.03 L446.91,518.63 L446.95,517.23 L446.99,515.83 L447.04,514.43 L447.08,513.04 L447.13,511.67 L447.19,510.31 L447.25,508.96 L447.31,507.64 L447.37,506.45 L447.42,505.30 L447.48,504.16 L447.54,503.04 L447.60,501.92 L447.66,500.81 L447.73,499.70 L447.80,498.58 L447.89,497.45 L447.97,496.31 L448.07,495.14 L448.18,493.94 L448.31,492.53 L448.44,491.07 L448.57,489.57 L448.71,488.05 L448.87,486.50 L449.03,484.96 L449.20,483.42 L449.39,481.91 L449.60,480.42 L449.83,478.98 L450.08,477.60 L450.36,476.28 L450.59,475.27 L450.84,474.28 L451.09,473.31 L451.35,472.36 L451.63,471.44 L451.91,470.53 L452.21,469.64 L452.53,468.77 L452.87,467.92 L453.22,467.09 L453.59,466.27 L453.99,465.47 L454.37,464.76 L454.75,464.05 L455.15,463.36 L455.57,462.68 L456.00,462.01 L456.44,461.36 L456.90,460.73 L457.38,460.12 L457.87,459.52 L458.37,458.96 L458.90,458.42 L459.44,457.90 L459.97,457.44 L460.53,457.00 L461.10,456.60 L461.69,456.21 L462.29,455.85 L462.91,455.50 L463.54,455.17 L464.17,454.84 L464.82,454.53 L465.47,454.21 L466.12,453.90 L466.77,453.58 L467.48,453.23 L468.18,452.90 L468.90,452.57 L469.62,452.25 L470.34,451.93 L471.08,451.63 L471.83,451.33 L472.59,451.04 L473.37,450.76 L474.16,450.48 L474.96,450.22 L475.78,449.97 L476.77,449.70 L477.79,449.44 L478.84,449.19 L479.92,448.96 L481.01,448.74 L482.12,448.53 L483.23,448.34 L484.34,448.15 L485.46,447.97 L486.56,447.79 L487.64,447.62 L488.71,447.45 L489.70,447.30 L490.67,447.16 L491.62,447.03 L492.57,446.92 L493.51,446.81 L494.45,446.70 L495.40,446.60 L496.37,446.49 L497.35,446.38 L498.36,446.27 L499.40,446.14 L500.48,446.01 L501.89,445.82 L503.36,445.62 L504.86,445.40 L506.40,445.17 L507.98,444.94 L509.58,444.70 L511.19,444.47 L512.82,444.25 L514.46,444.03 L516.10,443.83 L517.74,443.65 L519.37,443.48 L521.06,443.34 L522.74,443.22 L524.41,443.12 L526.09,443.04 L527.77,442.97 L529.47,442.90 L531.19,442.84 L532.94,442.78 L534.74,442.70 L536.58,442.62 L538.47,442.52 L540.43,442.40 L543.10,442.22 L545.88,442.01 L548.74,441.79 L551.69,441.55 L554.70,441.29 L557.77,441.03 L560.88,440.77 L564.03,440.50 L567.21,440.24 L570.39,439.99 L573.58,439.75 L576.75,439.52 L580.29,439.29 L583.95,439.06 L587.71,438.84 L591.53,438.63 L595.37,438.42 L599.21,438.22 L603.02,438.02 L606.75,437.81 L610.38,437.61 L613.88,437.41 L617.21,437.21 L620.33,437.00 L622.46,436.86 L624.54,436.74 L626.57,436.64 L628.56,436.55 L630.49,436.45 L632.37,436.35 L634.19,436.23 L635.95,436.09 L637.65,435.93 L639.28,435.73 L640.85,435.49 L642.34,435.20 L643.33,434.98 L644.29,434.76 L645.21,434.53 L646.09,434.30 L646.95,434.05 L647.78,433.79 L648.58,433.50 L649.36,433.19 L650.12,432.84 L650.86,432.47 L651.59,432.05 L652.29,431.59 L652.99,431.09 L653.66,430.54 L654.31,429.96 L654.94,429.35 L655.56,428.70 L656.15,428.03 L656.72,427.33 L657.26,426.62 L657.78,425.89 L658.28,425.15 L658.75,424.41 L659.20,423.66 L659.61,422.90 L659.99,422.13 L660.34,421.34 L660.66,420.54 L660.95,419.72 L661.23,418.88 L661.48,418.04 L661.73,417.17 L661.97,416.30 L662.21,415.40 L662.44,414.50 L662.68,413.57 L662.96,412.45 L663.22,411.29 L663.46,410.09 L663.69,408.87 L663.91,407.63 L664.12,406.37 L664.33,405.11 L664.53,403.83 L664.73,402.56 L664.94,401.29 L665.15,400.04 L665.37,398.80" stroke="#5B9BD5" stroke-width="3" fill="none" stroke-linejoin="round" stroke-linecap="round"/>
<path d="M665.37,398.80H674.09" stroke="#5B9BD5" stroke-width="3"/>
<path d="M446.73,512.32 L446.74,510.73 L446.75,509.12 L446.76,507.51 L446.77,505.90 L446.79,504.29 L446.80,502.69 L446.81,501.08 L446.82,499.49 L446.83,497.90 L446.85,496.33 L446.86,494.76 L446.87,493.22 L446.88,491.79 L446.88,490.36 L446.88,488.93 L446.87,487.51 L446.87,486.10 L446.86,484.70 L446.86,483.31 L446.87,481.94 L446.89,480.58 L446.92,479.24 L446.96,477.93 L447.02,476.64 L447.08,475.54 L447.15,474.45 L447.23,473.35 L447.31,472.27 L447.40,471.20 L447.50,470.15 L447.60,469.12 L447.71,468.11 L447.82,467.13 L447.94,466.18 L448.06,465.27 L448.18,464.39 L448.27,463.77 L448.36,463.18 L448.45,462.60 L448.54,462.04 L448.64,461.50 L448.74,460.97 L448.84,460.45 L448.95,459.94 L449.06,459.43 L449.17,458.92 L449.29,458.41 L449.41,457.90 L449.53,457.43 L449.65,456.96 L449.76,456.49 L449.88,456.02 L450.00,455.56 L450.13,455.10 L450.26,454.65 L450.41,454.21 L450.56,453.77 L450.72,453.34 L450.90,452.91 L451.08,452.49 L451.28,452.10 L451.48,451.71 L451.70,451.32 L451.92,450.94 L452.16,450.57 L452.40,450.20 L452.65,449.84 L452.90,449.48 L453.17,449.14 L453.44,448.81 L453.71,448.48 L453.99,448.17 L454.26,447.89 L454.53,447.61 L454.81,447.35 L455.09,447.09 L455.38,446.84 L455.68,446.60 L455.98,446.37 L456.29,446.14 L456.61,445.92 L456.94,445.70 L457.28,445.49 L457.62,445.29 L458.03,445.06 L458.45,444.85 L458.89,444.64 L459.34,444.44 L459.80,444.25 L460.27,444.07 L460.75,443.90 L461.22,443.73 L461.69,443.57 L462.16,443.41 L462.62,443.27 L463.07,443.12 L463.46,443.00 L463.85,442.89 L464.22,442.79 L464.59,442.70 L464.95,442.61 L465.32,442.52 L465.69,442.44 L466.08,442.37 L466.48,442.29 L466.89,442.21 L467.33,442.13 L467.79,442.04 L468.54,441.92 L469.34,441.79 L470.20,441.68 L471.09,441.56 L472.01,441.44 L472.96,441.33 L473.92,441.22 L474.89,441.10 L475.86,440.98 L476.82,440.86 L477.77,440.73 L478.69,440.60 L479.60,440.47 L480.51,440.33 L481.42,440.20 L482.33,440.07 L483.23,439.93 L484.14,439.79 L485.05,439.64 L485.96,439.49 L486.87,439.33 L487.77,439.16 L488.68,438.99 L489.58,438.80 L490.50,438.60 L491.41,438.38 L492.32,438.16 L493.24,437.92 L494.15,437.68 L495.06,437.43 L495.97,437.18 L496.88,436.92 L497.79,436.67 L498.69,436.41 L499.59,436.16 L500.48,435.92 L501.34,435.68 L502.21,435.45 L503.09,435.23 L503.96,435.01 L504.82,434.78 L505.69,434.55 L506.55,434.32 L507.39,434.08 L508.23,433.84 L509.05,433.58 L509.86,433.32 L510.65,433.03 L511.35,432.78 L512.05,432.52 L512.73,432.27 L513.42,432.01 L514.09,431.75 L514.75,431.47 L515.40,431.18 L516.04,430.88 L516.66,430.56 L517.27,430.21 L517.85,429.83 L518.42,429.43 L518.97,429.00 L519.51,428.55 L520.02,428.08 L520.53,427.58 L521.02,427.07 L521.49,426.54 L521.95,425.99 L522.40,425.42 L522.82,424.83 L523.24,424.22 L523.63,423.59 L524.01,422.94 L524.43,422.15 L524.82,421.31 L525.18,420.44 L525.51,419.53 L525.83,418.60 L526.12,417.65 L526.40,416.68 L526.67,415.70 L526.93,414.71 L527.19,413.73 L527.45,412.74 L527.72,411.77 L527.99,410.75 L528.25,409.72 L528.50,408.68 L528.74,407.63 L528.98,406.58 L529.20,405.52 L529.43,404.46 L529.65,403.39 L529.87,402.33 L530.09,401.27 L530.32,400.21 L530.55,399.16" stroke="#C00000" stroke-width="3" fill="none" stroke-linejoin="round" stroke-linecap="round"/>
<path d="M530.55,399.16H542.61" stroke="#C00000" stroke-width="3"/>
<rect x="28" y="605" width="339" height="21.4" fill="#92D050"/>
<text x="30.9" y="619.8" font-size="10.76" font-weight="bold" fill="#F4FFE6" stroke="#F4FFE6" stroke-width="0.3" textLength="287.10" lengthAdjust="spacingAndGlyphs" style="white-space:pre">Different DOD Discharge Cycle Life Curve @0.2C,25<tspan font-weight="normal">°</tspan><tspan font-weight="normal" dx="-0.5">C</tspan></text>
<rect x="27" y="630.6" width="339.5" height="233.39999999999998" fill="none" stroke="#A4A4A4" stroke-width="1.5"/>
<path d="M111.55,648.70V822.30M129.50,648.70V822.30M147.45,648.70V822.30M165.40,648.70V822.30M183.35,648.70V822.30M201.30,648.70V822.30M219.25,648.70V822.30M237.20,648.70V822.30M255.15,648.70V822.30M273.10,648.70V822.30M291.05,648.70V822.30M309.00,648.70V822.30M326.95,648.70V822.30" stroke="#8C8C8C" stroke-width="1.0" fill="none" stroke-dasharray="5,3"/><path d="M93.60,787.58H344.90M93.60,752.86H344.90M93.60,718.14H344.90M93.60,683.42H344.90" stroke="#8C8C8C" stroke-width="1.0" fill="none" stroke-dasharray="5,3"/>
<rect x="93.60" y="648.70" width="251.30" height="173.60" fill="none" stroke="#8C8C8C" stroke-width="1.2"/>
<text x="59.58" y="826.53" font-size="12.3" fill="#111" stroke="#111" stroke-width="0.25" textLength="23.02" lengthAdjust="spacingAndGlyphs">60%</text>
<text x="59.58" y="791.81" font-size="12.3" fill="#111" stroke="#111" stroke-width="0.25" textLength="23.02" lengthAdjust="spacingAndGlyphs">70%</text>
<text x="59.58" y="757.09" font-size="12.3" fill="#111" stroke="#111" stroke-width="0.25" textLength="23.02" lengthAdjust="spacingAndGlyphs">80%</text>
<text x="59.58" y="722.37" font-size="12.3" fill="#111" stroke="#111" stroke-width="0.25" textLength="23.02" lengthAdjust="spacingAndGlyphs">90%</text>
<text x="53.19" y="687.65" font-size="12.3" fill="#111" stroke="#111" stroke-width="0.25" textLength="29.41" lengthAdjust="spacingAndGlyphs">100%</text>
<text x="54.04" y="652.93" font-size="12.3" fill="#111" stroke="#111" stroke-width="0.25" textLength="28.56" lengthAdjust="spacingAndGlyphs">110%</text>
<text x="90.40" y="840.73" font-size="12.3" fill="#111" stroke="#111" stroke-width="0.25" textLength="6.40" lengthAdjust="spacingAndGlyphs">0</text>
<text x="116.71" y="840.73" font-size="12.3" fill="#111" stroke="#111" stroke-width="0.25" textLength="25.58" lengthAdjust="spacingAndGlyphs">1000</text>
<text x="152.61" y="840.73" font-size="12.3" fill="#111" stroke="#111" stroke-width="0.25" textLength="25.58" lengthAdjust="spacingAndGlyphs">2000</text>
<text x="188.51" y="840.73" font-size="12.3" fill="#111" stroke="#111" stroke-width="0.25" textLength="25.58" lengthAdjust="spacingAndGlyphs">3000</text>
<text x="224.41" y="840.73" font-size="12.3" fill="#111" stroke="#111" stroke-width="0.25" textLength="25.58" lengthAdjust="spacingAndGlyphs">4000</text>
<text x="260.31" y="840.73" font-size="12.3" fill="#111" stroke="#111" stroke-width="0.25" textLength="25.58" lengthAdjust="spacingAndGlyphs">5000</text>
<text x="296.21" y="840.73" font-size="12.3" fill="#111" stroke="#111" stroke-width="0.25" textLength="25.58" lengthAdjust="spacingAndGlyphs">6000</text>
<text x="332.11" y="840.73" font-size="12.3" fill="#111" stroke="#111" stroke-width="0.25" textLength="25.58" lengthAdjust="spacingAndGlyphs">7000</text>
<text x="189.50" y="856.70" font-size="12.65" font-weight="bold" fill="#111" textLength="113.90" lengthAdjust="spacingAndGlyphs" >Numenber of Cycles</text>
<text transform="translate(46.21,739.90) rotate(-90)" x="0" y="0" font-size="12.06" font-weight="bold" text-anchor="middle" textLength="126.40" lengthAdjust="spacingAndGlyphs" fill="#000">Remaining capacty(%)</text>
<path d="M104.70,643H129.00" stroke="#4F81BD" stroke-width="3.0" stroke-linecap="round"/>
<text x="132.80" y="646.92" font-size="11.4" fill="#111" stroke="#111" stroke-width="0.25" textLength="50.40" lengthAdjust="spacingAndGlyphs">100%DOD</text>
<path d="M189.20,643H213.30" stroke="#C0504D" stroke-width="3.0" stroke-linecap="round"/>
<text x="217.20" y="646.92" font-size="11.4" fill="#111" stroke="#111" stroke-width="0.25" textLength="44.40" lengthAdjust="spacingAndGlyphs">80%DOD</text>
<path d="M267.40,643H291.80" stroke="#77933C" stroke-width="3.0" stroke-linecap="round"/>
<text x="295.90" y="646.92" font-size="11.4" fill="#111" stroke="#111" stroke-width="0.25" textLength="44.40" lengthAdjust="spacingAndGlyphs">50%DOD</text>
<path d="M93.60,683.42 L165.40,780.64" stroke="#4F81BD" stroke-width="3" fill="none" stroke-linejoin="round" stroke-linecap="round"/>
<path d="M93.60,683.42 L219.25,780.64" stroke="#C0504D" stroke-width="3" fill="none" stroke-linejoin="round" stroke-linecap="round"/>
<path d="M93.60,683.42 L309.00,780.64" stroke="#77933C" stroke-width="3" fill="none" stroke-linejoin="round" stroke-linecap="round"/>
<rect x="386.2" y="605" width="338.6" height="21.6" fill="#92D050"/>
<text x="389.3" y="620.0" font-size="11.05" font-weight="bold" fill="#F4FFE6" stroke="#F4FFE6" stroke-width="0.3" textLength="196.70" lengthAdjust="spacingAndGlyphs" style="white-space:pre">Open circuit voltage VS SOC%@25<tspan font-weight="normal">°</tspan><tspan font-weight="normal" dx="-0.5">C</tspan></text>
<rect x="383.8" y="630.2" width="344.59999999999997" height="236.39999999999998" fill="none" stroke="#A4A4A4" stroke-width="1.5"/>
<path d="M469.61,644.10V821.10M495.62,644.10V821.10M521.63,644.10V821.10M547.64,644.10V821.10M573.65,644.10V821.10M599.66,644.10V821.10M625.67,644.10V821.10M651.68,644.10V821.10M677.69,644.10V821.10" stroke="#B4B4B4" stroke-width="1.1" fill="none"/><path d="M443.60,798.98H703.70M443.60,776.85H703.70M443.60,754.73H703.70M443.60,732.60H703.70M443.60,710.48H703.70M443.60,688.35H703.70M443.60,666.22H703.70" stroke="#B4B4B4" stroke-width="1.1" fill="none"/>
<rect x="443.60" y="644.10" width="260.10" height="177.00" fill="none" stroke="#A0A0A0" stroke-width="1.2"/>
<text x="408.22" y="825.33" font-size="12.3" fill="#111" stroke="#111" stroke-width="0.25" textLength="22.38" lengthAdjust="spacingAndGlyphs">12.0</text>
<text x="408.22" y="803.21" font-size="12.3" fill="#111" stroke="#111" stroke-width="0.25" textLength="22.38" lengthAdjust="spacingAndGlyphs">12.2</text>
<text x="408.22" y="781.08" font-size="12.3" fill="#111" stroke="#111" stroke-width="0.25" textLength="22.38" lengthAdjust="spacingAndGlyphs">12.4</text>
<text x="408.22" y="758.96" font-size="12.3" fill="#111" stroke="#111" stroke-width="0.25" textLength="22.38" lengthAdjust="spacingAndGlyphs">12.6</text>
<text x="408.22" y="736.83" font-size="12.3" fill="#111" stroke="#111" stroke-width="0.25" textLength="22.38" lengthAdjust="spacingAndGlyphs">12.8</text>
<text x="408.22" y="714.71" font-size="12.3" fill="#111" stroke="#111" stroke-width="0.25" textLength="22.38" lengthAdjust="spacingAndGlyphs">13.0</text>
<text x="408.22" y="692.58" font-size="12.3" fill="#111" stroke="#111" stroke-width="0.25" textLength="22.38" lengthAdjust="spacingAndGlyphs">13.2</text>
<text x="408.22" y="670.46" font-size="12.3" fill="#111" stroke="#111" stroke-width="0.25" textLength="22.38" lengthAdjust="spacingAndGlyphs">13.4</text>
<text x="408.22" y="648.33" font-size="12.3" fill="#111" stroke="#111" stroke-width="0.25" textLength="22.38" lengthAdjust="spacingAndGlyphs">13.6</text>
<text x="435.29" y="842.23" font-size="12.3" fill="#111" stroke="#111" stroke-width="0.25" textLength="16.62" lengthAdjust="spacingAndGlyphs">0%</text>
<text x="484.11" y="842.23" font-size="12.3" fill="#111" stroke="#111" stroke-width="0.25" textLength="23.02" lengthAdjust="spacingAndGlyphs">20%</text>
<text x="536.13" y="842.23" font-size="12.3" fill="#111" stroke="#111" stroke-width="0.25" textLength="23.02" lengthAdjust="spacingAndGlyphs">40%</text>
<text x="588.15" y="842.23" font-size="12.3" fill="#111" stroke="#111" stroke-width="0.25" textLength="23.02" lengthAdjust="spacingAndGlyphs">60%</text>
<text x="640.17" y="842.23" font-size="12.3" fill="#111" stroke="#111" stroke-width="0.25" textLength="23.02" lengthAdjust="spacingAndGlyphs">80%</text>
<text x="688.99" y="842.23" font-size="12.3" fill="#111" stroke="#111" stroke-width="0.25" textLength="29.41" lengthAdjust="spacingAndGlyphs">100%</text>
<text x="554.20" y="861.40" font-size="12.21" font-weight="bold" fill="#111" textLength="39.40" lengthAdjust="spacingAndGlyphs" >SOC(%)</text>
<text transform="translate(400.14,733.40) rotate(-90)" x="0" y="0" font-size="12.81" font-weight="bold" text-anchor="middle" textLength="129.00" lengthAdjust="spacingAndGlyphs" fill="#000">Open Circuit Voltage(V)</text>
<path d="M452.20,821.40 L452.43,818.88 L452.67,816.32 L452.91,813.74 L453.15,811.14 L453.39,808.55 L453.63,805.96 L453.87,803.40 L454.10,800.88 L454.33,798.41 L454.56,796.00 L454.78,793.66 L455.00,791.40 L455.17,789.66 L455.33,787.96 L455.48,786.28 L455.63,784.63 L455.78,783.01 L455.93,781.42 L456.08,779.87 L456.23,778.35 L456.39,776.86 L456.55,775.40 L456.72,773.98 L456.90,772.60 L457.04,771.56 L457.18,770.54 L457.31,769.56 L457.44,768.61 L457.58,767.67 L457.72,766.75 L457.87,765.84 L458.02,764.94 L458.19,764.04 L458.38,763.13 L458.58,762.22 L458.80,761.30 L459.04,760.35 L459.29,759.40 L459.55,758.45 L459.82,757.49 L460.11,756.54 L460.40,755.59 L460.72,754.65 L461.04,753.71 L461.38,752.79 L461.74,751.88 L462.11,750.98 L462.50,750.10 L462.89,749.27 L463.30,748.45 L463.72,747.64 L464.16,746.85 L464.61,746.06 L465.08,745.29 L465.55,744.52 L466.04,743.75 L466.54,742.99 L467.05,742.23 L467.57,741.46 L468.10,740.70 L468.66,739.90 L469.24,739.10 L469.82,738.31 L470.42,737.52 L471.03,736.74 L471.65,735.96 L472.29,735.18 L472.94,734.40 L473.60,733.62 L474.28,732.85 L474.98,732.07 L475.70,731.30 L476.54,730.43 L477.41,729.56 L478.32,728.68 L479.26,727.81 L480.21,726.94 L481.18,726.07 L482.16,725.21 L483.13,724.35 L484.10,723.50 L485.06,722.65 L485.99,721.82 L486.90,721.00 L487.71,720.25 L488.52,719.49 L489.31,718.72 L490.10,717.96 L490.89,717.20 L491.67,716.46 L492.44,715.73 L493.22,715.02 L493.99,714.33 L494.76,713.68 L495.53,713.07 L496.30,712.50 L496.92,712.07 L497.52,711.67 L498.11,711.30 L498.69,710.96 L499.27,710.63 L499.85,710.31 L500.45,710.01 L501.06,709.70 L501.70,709.39 L502.36,709.08 L503.06,708.75 L503.80,708.40 L504.97,707.87 L506.23,707.32 L507.58,706.76 L508.99,706.19 L510.45,705.62 L511.94,705.04 L513.45,704.47 L514.96,703.89 L516.46,703.33 L517.92,702.77 L519.34,702.23 L520.70,701.70 L521.85,701.25 L522.97,700.79 L524.07,700.35 L525.16,699.91 L526.24,699.47 L527.31,699.04 L528.38,698.61 L529.44,698.19 L530.52,697.78 L531.60,697.38 L532.69,696.98 L533.80,696.60 L534.95,696.22 L536.11,695.84 L537.27,695.47 L538.44,695.11 L539.62,694.75 L540.80,694.41 L541.98,694.07 L543.16,693.74 L544.35,693.42 L545.53,693.10 L546.72,692.80 L547.90,692.50 L549.08,692.21 L550.29,691.93 L551.51,691.66 L552.74,691.40 L553.96,691.14 L555.19,690.89 L556.40,690.66 L557.59,690.43 L558.75,690.20 L559.88,689.99 L560.96,689.79 L562.00,689.60 L562.73,689.47 L563.40,689.35 L564.04,689.25 L564.64,689.15 L565.23,689.05 L565.82,688.96 L566.42,688.87 L567.04,688.78 L567.70,688.68 L568.40,688.56 L569.16,688.44 L570.00,688.30 L571.83,687.99 L573.91,687.63 L576.19,687.23 L578.65,686.80 L581.23,686.34 L583.91,685.87 L586.65,685.38 L589.41,684.89 L592.15,684.40 L594.84,683.91 L597.43,683.45 L599.90,683.00 L602.12,682.60 L604.34,682.18 L606.57,681.77 L608.78,681.35 L610.99,680.94 L613.17,680.52 L615.32,680.12 L617.44,679.73 L619.51,679.34 L621.54,678.98 L623.50,678.63 L625.40,678.30 L626.83,678.06 L628.24,677.82 L629.61,677.58 L630.95,677.36 L632.27,677.14 L633.56,676.93 L634.83,676.72 L636.08,676.53 L637.31,676.35 L638.52,676.19 L639.72,676.04 L640.90,675.90 L641.84,675.80 L642.74,675.72 L643.60,675.64 L644.43,675.58 L645.25,675.52 L646.07,675.47 L646.90,675.43 L647.75,675.39 L648.64,675.34 L649.56,675.30 L650.55,675.25 L651.60,675.20 L653.41,675.11 L655.41,675.02 L657.56,674.93 L659.83,674.84 L662.18,674.76 L664.57,674.67 L666.97,674.59 L669.35,674.50 L671.67,674.42 L673.89,674.35 L675.98,674.27 L677.90,674.20 L679.18,674.15 L680.43,674.11 L681.64,674.07 L682.81,674.03 L683.96,673.99 L685.07,673.96 L686.16,673.92 L687.23,673.88 L688.27,673.84 L689.30,673.80 L690.31,673.75 L691.30,673.70 L692.07,673.66 L692.81,673.61 L693.54,673.56 L694.25,673.51 L694.94,673.46 L695.62,673.41 L696.30,673.36 L696.97,673.31 L697.65,673.25 L698.32,673.20 L699.01,673.15 L699.70,673.10" stroke="#1DAA4E" stroke-width="3.2" fill="none" stroke-linejoin="round" stroke-linecap="round"/>
</svg>
</body></html>
